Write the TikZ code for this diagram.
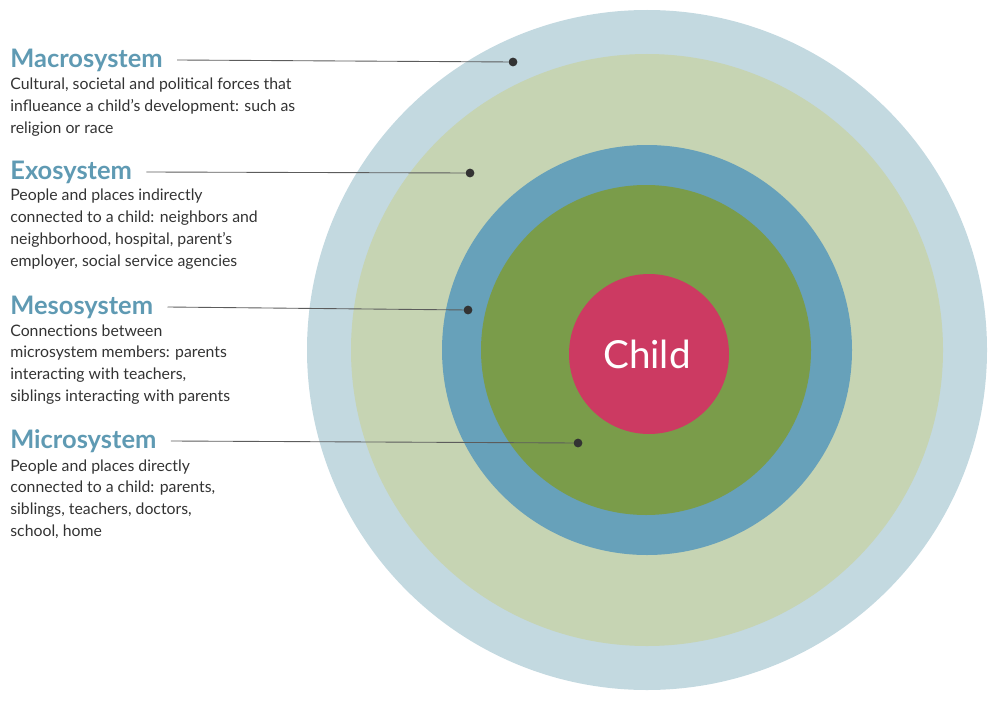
\documentclass[tikz,border=0pt]{standalone}
\usepackage{fontspec}
\setmainfont{Lato}
\definecolor{cmacro}{HTML}{C3D9E0}
\definecolor{cexo}{HTML}{C6D4B3}
\definecolor{cmeso}{HTML}{67A1BA}
\definecolor{cmicro}{HTML}{7A9C4A}
\definecolor{cchild}{HTML}{CC3A62}
\definecolor{ctitle}{HTML}{5F9AB3}
\definecolor{ctext}{HTML}{333333}
\tikzset{
 title/.style={anchor=west,inner sep=0pt,font=\fontsize{14.5}{16}\selectfont\bfseries,text=ctitle},
 body/.style={anchor=north west,inner sep=0pt,align=left,font=\fontsize{9}{12.5}\selectfont,text=ctext},
 dot/.style={circle,fill=ctext,inner sep=0pt,minimum size=5pt},
 lead/.style={draw=ctext!80,line width=0.5pt}
}
\begin{document}
\begin{tikzpicture}[x=0.02cm,y=-0.02cm]
\useasboundingbox (0,0) rectangle (1000,706);
\fill[cmacro] (647,350) circle (340);
\fill[cexo] (647,350) circle (296);
\fill[cmeso] (647,350) circle (205);
\fill[cmicro] (646,350) circle (165);
\fill[cchild] (649,354) circle (80);
\node[text=white,font=\fontsize{22}{24}\selectfont] (child) at (647,354) {Child};

\node[title] (t1) at (10,60) {Macrosystem};
\node[body] (b1) at (10,78) {Cultural, societal and political forces that\\influeance a child’s development: such as\\religion or race};
\node[dot] (d1) at (513,62) {};
\draw[lead] (t1.east)++(8pt,0) coordinate (s1) -- (d1);

\node[title] (t2) at (10,172) {Exosystem};
\node[body] (b2) at (10,189) {People and places indirectly\\connected to a child: neighbors and\\neighborhood, hospital, parent’s\\employer, social service agencies};
\node[dot] (d2) at (470,173) {};
\draw[lead] (t2.east)++(8pt,0) coordinate (s2) -- (d2);

\node[title] (t3) at (10,307) {Mesosystem};
\node[body] (b3) at (10,324) {Connections between\\microsystem members: parents\\interacting with teachers,\\siblings interacting with parents};
\node[dot] (d3) at (468,310) {};
\draw[lead] (t3.east)++(8pt,0) coordinate (s3) -- (d3);

\node[title] (t4) at (10,441) {Microsystem};
\node[body] (b4) at (10,459) {People and places directly\\connected to a child: parents,\\siblings, teachers, doctors,\\school, home};
\node[dot] (d4) at (578,443) {};
\draw[lead] (t4.east)++(8pt,0) coordinate (s4) -- (d4);
\end{tikzpicture}
\end{document}
